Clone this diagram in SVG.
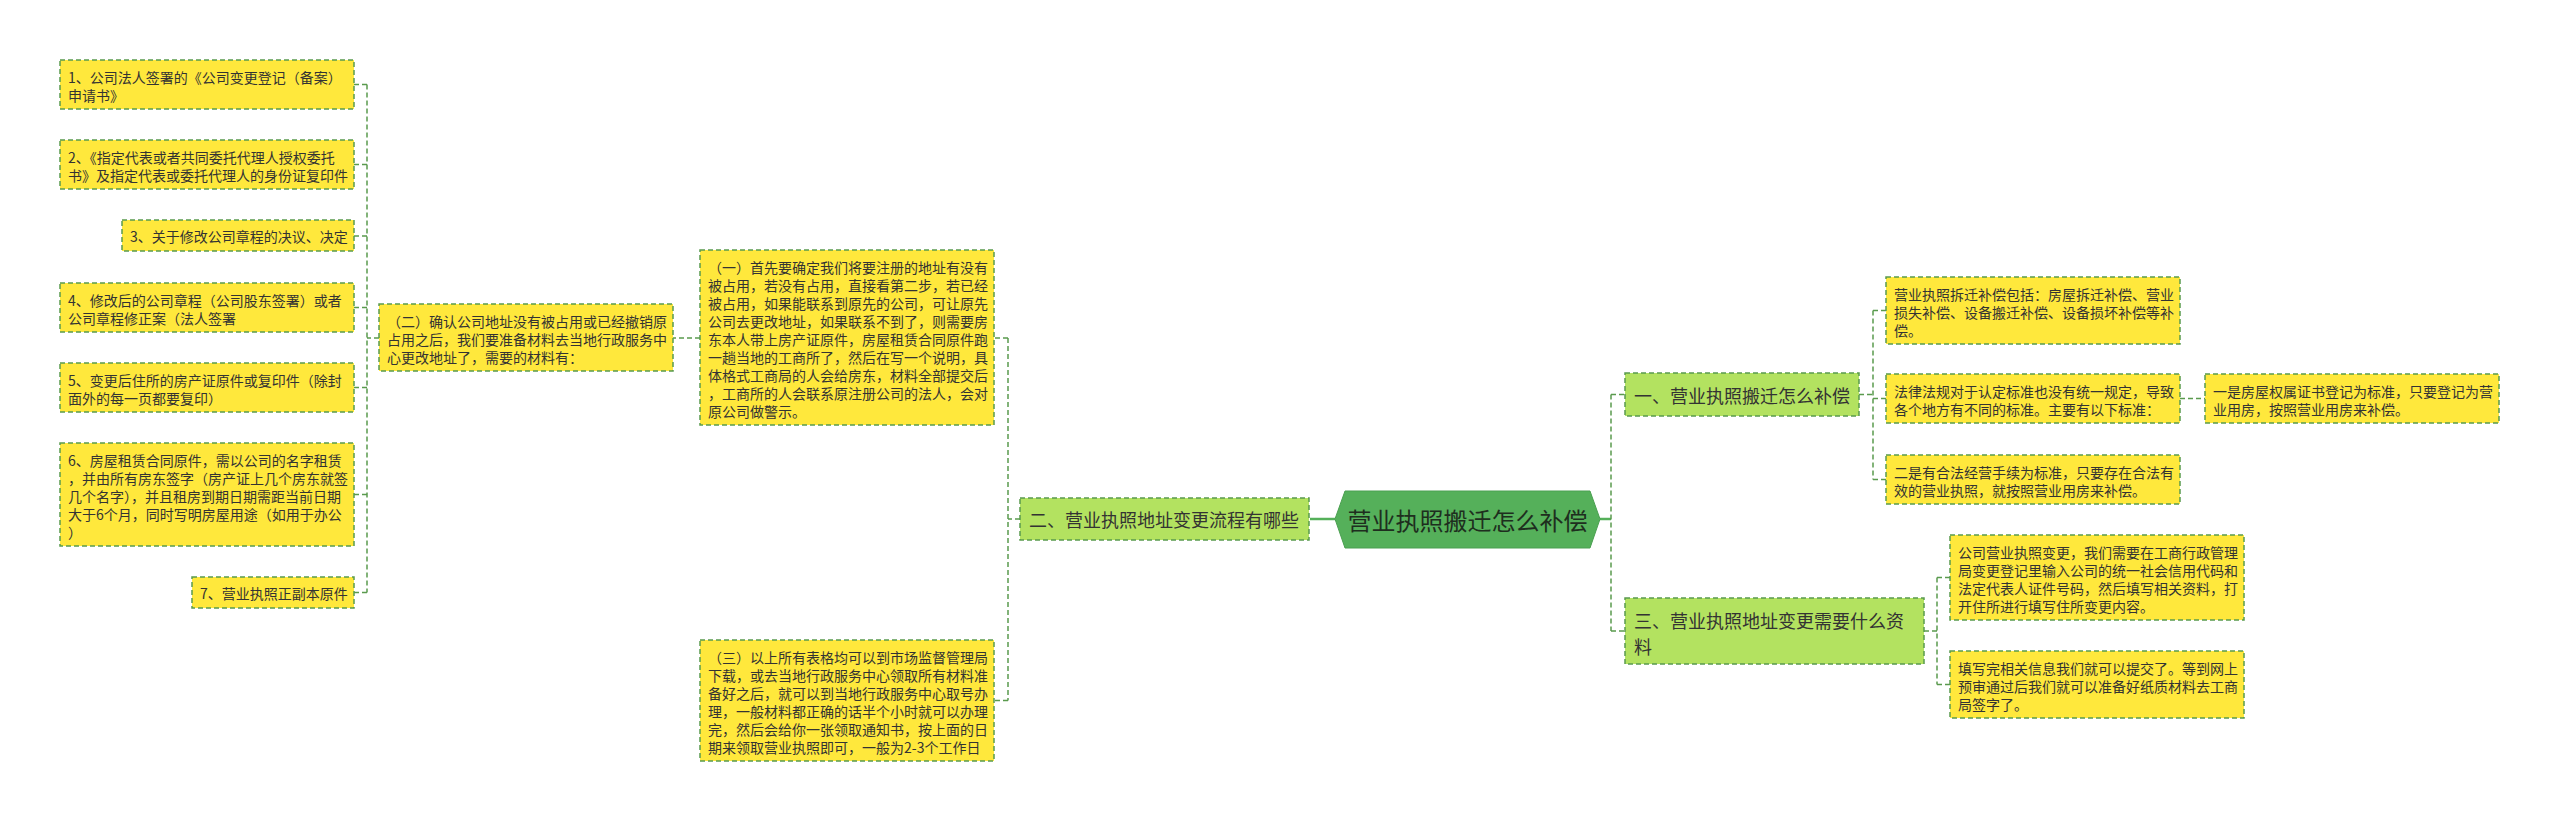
<svg xmlns="http://www.w3.org/2000/svg" width="2560" height="821" viewBox="0 0 2560 821">
<style>
.bg{fill:#ffffff}
.y{fill:#ffe83c;stroke:#5a9a4e;stroke-width:1.5;stroke-dasharray:5 3}
.g{fill:#b3e260;stroke:#5a9a4e;stroke-width:1.5;stroke-dasharray:5 3}
.c{fill:#55b05a;stroke:#4a9f50;stroke-width:1}
.t{font-family:"Noto Sans CJK SC","Liberation Sans",sans-serif;font-size:14px;fill:#333333;dominant-baseline:central}
.t18{font-size:18px}
.t24{font-size:24px;fill:#1e2e1e;text-anchor:middle}
.conn{fill:none;stroke:#5a9a4e;stroke-width:1.5;stroke-dasharray:5 3}
.solid{fill:none;stroke:#55b05a;stroke-width:2.5}
</style>
<rect class="bg" x="0" y="0" width="2560" height="821"/>
<g id="connectors">
<path class="conn" d="M379,338 H367 M367,84.5 V592.5 M367,84.5 H354 M367,164.5 H354 M367,236 H354 M367,307.5 H354 M367,387.5 H354 M367,494.5 H354 M367,592.5 H354"/>
<path class="conn" d="M700,338 H673"/>
<path class="conn" d="M1020,519 H1008 M1008,338 V700.5 M1008,338 H994 M1008,700.5 H994"/>
<path class="solid" d="M1310,519 H1335"/>
<path class="solid" d="M1600,519 H1611"/>
<path class="conn" d="M1611,394.5 V631 M1611,394.5 H1625 M1611,631 H1625"/>
<path class="conn" d="M1859,394.5 H1873 M1873,310.5 V479.5 M1873,310.5 H1886 M1873,398.5 H1886 M1873,479.5 H1886"/>
<path class="conn" d="M2180,398.5 H2205"/>
<path class="conn" d="M1924,631 H1937 M1937,577.5 V684.5 M1937,577.5 H1950 M1937,684.5 H1950"/>
</g>
<g id="n1"><rect class="y" x="60" y="60" width="294" height="49"/>
<text class="t" x="68" y="77">1、公司法人签署的《公司变更登记（备案）</text>
<text class="t" x="68" y="95">申请书》</text></g>
<g id="n2"><rect class="y" x="60" y="140" width="294" height="49"/>
<text class="t" x="68" y="157">2、《指定代表或者共同委托代理人授权委托</text>
<text class="t" x="68" y="175">书》及指定代表或委托代理人的身份证复印件</text></g>
<g id="n3"><rect class="y" x="122" y="220" width="232" height="31"/>
<text class="t" x="130" y="236">3、关于修改公司章程的决议、决定</text></g>
<g id="n4"><rect class="y" x="60" y="283" width="294" height="49"/>
<text class="t" x="68" y="300">4、修改后的公司章程（公司股东签署）或者</text>
<text class="t" x="68" y="318">公司章程修正案（法人签署</text></g>
<g id="n5"><rect class="y" x="60" y="363" width="294" height="49"/>
<text class="t" x="68" y="380">5、变更后住所的房产证原件或复印件（除封</text>
<text class="t" x="68" y="398">面外的每一页都要复印）</text></g>
<g id="n6"><rect class="y" x="60" y="443" width="294" height="103"/>
<text class="t" x="68" y="460">6、房屋租赁合同原件，需以公司的名字租赁</text>
<text class="t" x="68" y="478">，并由所有房东签字（房产证上几个房东就签</text>
<text class="t" x="68" y="496">几个名字），并且租房到期日期需距当前日期</text>
<text class="t" x="68" y="514">大于6个月，同时写明房屋用途（如用于办公</text>
<text class="t" x="68" y="532">）</text></g>
<g id="n7"><rect class="y" x="192" y="577" width="162" height="31"/>
<text class="t" x="200" y="593">7、营业执照正副本原件</text></g>
<g id="n_er"><rect class="y" x="379" y="304" width="294" height="67"/>
<text class="t" x="387" y="321">（二）确认公司地址没有被占用或已经撤销原</text>
<text class="t" x="387" y="339">占用之后，我们要准备材料去当地行政服务中</text>
<text class="t" x="387" y="357">心更改地址了，需要的材料有：</text></g>
<g id="n_yi"><rect class="y" x="700" y="250" width="294" height="175"/>
<text class="t" x="708" y="267">（一）首先要确定我们将要注册的地址有没有</text>
<text class="t" x="708" y="285">被占用，若没有占用，直接看第二步，若已经</text>
<text class="t" x="708" y="303">被占用，如果能联系到原先的公司，可让原先</text>
<text class="t" x="708" y="321">公司去更改地址，如果联系不到了，则需要房</text>
<text class="t" x="708" y="339">东本人带上房产证原件，房屋租赁合同原件跑</text>
<text class="t" x="708" y="357">一趟当地的工商所了，然后在写一个说明，具</text>
<text class="t" x="708" y="375">体格式工商局的人会给房东，材料全部提交后</text>
<text class="t" x="708" y="393">，工商所的人会联系原注册公司的法人，会对</text>
<text class="t" x="708" y="411">原公司做警示。</text></g>
<g id="n_san"><rect class="y" x="700" y="640" width="294" height="121"/>
<text class="t" x="708" y="657">（三）以上所有表格均可以到市场监督管理局</text>
<text class="t" x="708" y="675">下载，或去当地行政服务中心领取所有材料准</text>
<text class="t" x="708" y="693">备好之后，就可以到当地行政服务中心取号办</text>
<text class="t" x="708" y="711">理，一般材料都正确的话半个小时就可以办理</text>
<text class="t" x="708" y="729">完，然后会给你一张领取通知书，按上面的日</text>
<text class="t" x="708" y="747">期来领取营业执照即可，一般为2-3个工作日</text></g>
<g id="b2"><rect class="g" x="1020" y="498" width="289" height="42"/>
<text class="t t18" x="1029" y="519">二、营业执照地址变更流程有哪些</text></g>
<g id="center"><polygon class="c" points="1335,519 1345,491 1590,491 1600,519 1590,548 1345,548"/>
<text class="t t24" x="1467.5" y="519">营业执照搬迁怎么补偿</text></g>
<g id="b1"><rect class="g" x="1625" y="373" width="234" height="43"/>
<text class="t t18" x="1634" y="394.5">一、营业执照搬迁怎么补偿</text></g>
<g id="b3"><rect class="g" x="1625" y="598" width="299" height="66"/>
<text class="t t18" x="1634" y="620">三、营业执照地址变更需要什么资</text>
<text class="t t18" x="1634" y="646">料</text></g>
<g id="r1"><rect class="y" x="1886" y="277" width="294" height="67"/>
<text class="t" x="1894" y="294">营业执照拆迁补偿包括：房屋拆迁补偿、营业</text>
<text class="t" x="1894" y="312">损失补偿、设备搬迁补偿、设备损坏补偿等补</text>
<text class="t" x="1894" y="330">偿。</text></g>
<g id="r2"><rect class="y" x="1886" y="374" width="294" height="49"/>
<text class="t" x="1894" y="391">法律法规对于认定标准也没有统一规定，导致</text>
<text class="t" x="1894" y="409">各个地方有不同的标准。主要有以下标准：</text></g>
<g id="r3"><rect class="y" x="1886" y="455" width="294" height="49"/>
<text class="t" x="1894" y="472">二是有合法经营手续为标准，只要存在合法有</text>
<text class="t" x="1894" y="490">效的营业执照，就按照营业用房来补偿。</text></g>
<g id="r4"><rect class="y" x="2205" y="374" width="294" height="49"/>
<text class="t" x="2213" y="391">一是房屋权属证书登记为标准，只要登记为营</text>
<text class="t" x="2213" y="409">业用房，按照营业用房来补偿。</text></g>
<g id="r5"><rect class="y" x="1950" y="535" width="294" height="85"/>
<text class="t" x="1958" y="552">公司营业执照变更，我们需要在工商行政管理</text>
<text class="t" x="1958" y="570">局变更登记里输入公司的统一社会信用代码和</text>
<text class="t" x="1958" y="588">法定代表人证件号码，然后填写相关资料，打</text>
<text class="t" x="1958" y="606">开住所进行填写住所变更内容。</text></g>
<g id="r6"><rect class="y" x="1950" y="651" width="294" height="67"/>
<text class="t" x="1958" y="668">填写完相关信息我们就可以提交了。等到网上</text>
<text class="t" x="1958" y="686">预审通过后我们就可以准备好纸质材料去工商</text>
<text class="t" x="1958" y="704">局签字了。</text></g>
</svg>
